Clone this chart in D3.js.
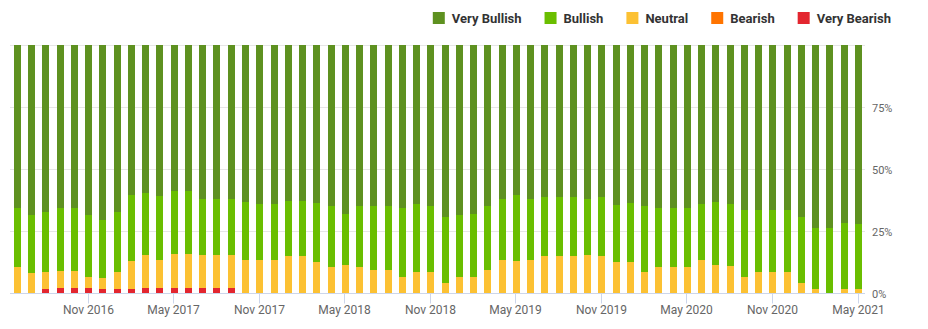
<!DOCTYPE html>
<html><head><meta charset="utf-8">
<script src="https://cdn.jsdelivr.net/npm/d3@7"></script>
<style>body{margin:0;background:#fff}svg{display:block}</style>
</head><body>
<svg id="chart" width="928" height="329"></svg>
<script>
const months = [
  "Jun 2016","Jul 2016","Aug 2016","Sep 2016","Oct 2016","Nov 2016","Dec 2016",
  "Jan 2017","Feb 2017","Mar 2017","Apr 2017","May 2017","Jun 2017","Jul 2017","Aug 2017","Sep 2017","Oct 2017","Nov 2017","Dec 2017",
  "Jan 2018","Feb 2018","Mar 2018","Apr 2018","May 2018","Jun 2018","Jul 2018","Aug 2018","Sep 2018","Oct 2018","Nov 2018","Dec 2018",
  "Jan 2019","Feb 2019","Mar 2019","Apr 2019","May 2019","Jun 2019","Jul 2019","Aug 2019","Sep 2019","Oct 2019","Nov 2019","Dec 2019",
  "Jan 2020","Feb 2020","Mar 2020","Apr 2020","May 2020","Jun 2020","Jul 2020","Aug 2020","Sep 2020","Oct 2020","Nov 2020","Dec 2020",
  "Jan 2021","Feb 2021","Mar 2021","Apr 2021","May 2021"
];
const veryBearish = [
  0, 0, 1.7, 2.2, 2.2, 2.2, 1.7, 1.7, 1.7, 2.2,
  2.2, 2.2, 2.2, 2.2, 2.2, 2.2, 0, 0, 0, 0,
  0, 0, 0, 0, 0, 0, 0, 0, 0, 0,
  0, 0, 0, 0, 0, 0, 0, 0, 0, 0,
  0, 0, 0, 0, 0, 0, 0, 0, 0, 0,
  0, 0, 0, 0, 0, 0, 0, 0, 0, 0
];
const bearish = [
  0, 0, 0, 0, 0, 0, 0, 0, 0, 0,
  0, 0, 0, 0, 0, 0, 0, 0, 0, 0,
  0, 0, 0, 0, 0, 0, 0, 0, 0, 0,
  0, 0, 0, 0, 0, 0, 0, 0, 0, 0,
  0, 0, 0, 0, 0, 0, 0, 0, 0, 0,
  0, 0, 0, 0, 0, 0, 0, 0, 0, 0
];
const neutral = [
  10.6, 8.2, 6.9, 6.8, 6.8, 4.4, 4.5, 6.9, 11.3, 13.3,
  11.2, 13.7, 13.7, 13.3, 13.3, 13.3, 13.4, 13.4, 13.4, 15.1,
  15.1, 12.6, 10.6, 11.4, 10.6, 9.4, 9.4, 6.6, 8.6, 8.6,
  4.2, 6.6, 6.6, 9.4, 13.4, 13.0, 13.4, 15.1, 15.1, 15.1,
  15.5, 15.1, 12.6, 12.6, 8.6, 10.6, 10.6, 10.6, 13.4, 11.4,
  11.0, 6.6, 8.6, 8.6, 8.6, 4.2, 1.7, 0, 1.7, 1.7
];
const bullish = [
  23.8, 23.4, 24.2, 25.4, 25.4, 25.0, 23.4, 24.2, 26.7, 25.0,
  25.8, 25.4, 25.4, 22.5, 22.5, 22.5, 23.4, 22.6, 22.6, 22.1,
  22.1, 23.8, 24.6, 20.6, 24.6, 25.8, 25.8, 27.8, 27.4, 26.6,
  26.6, 25.0, 25.4, 25.8, 24.6, 26.7, 24.6, 23.7, 23.7, 23.7,
  22.5, 23.7, 23.0, 23.8, 26.6, 23.8, 23.8, 23.8, 22.6, 25.4,
  25.0, 27.0, 25.0, 25.0, 25.0, 26.6, 24.6, 26.3, 26.7, 26.3
];
const veryBullish = [
  65.6, 68.4, 67.2, 65.6, 65.6, 68.4, 70.4, 67.2, 60.3, 59.5,
  60.8, 58.7, 58.7, 62.0, 62.0, 62.0, 63.2, 64.0, 64.0, 62.8,
  62.8, 63.6, 64.8, 68.0, 64.8, 64.8, 64.8, 65.6, 64.0, 64.8,
  69.2, 68.4, 68.0, 64.8, 62.0, 60.3, 62.0, 61.2, 61.2, 61.2,
  62.0, 61.2, 64.4, 63.6, 64.8, 65.6, 65.6, 65.6, 64.0, 63.2,
  64.0, 66.4, 66.4, 66.4, 66.4, 69.2, 73.7, 73.7, 71.6, 72.0
];
const xTickLabels = ["Nov 2016","May 2017","Nov 2017","May 2018","Nov 2018","May 2019","Nov 2019","May 2020","Nov 2020","May 2021"];
const yTickValues = [0, 0.25, 0.5, 0.75];
const gridValues = [0.25, 0.5, 0.75, 1];
const stackKeys = ["Very Bearish","Bearish","Neutral","Bullish","Very Bullish"];
const legendKeys = ["Very Bullish","Bullish","Neutral","Bearish","Very Bearish"];
const colors = {
  "Very Bullish": "#5e9120",
  "Bullish": "#6abe00",
  "Neutral": "#fcc133",
  "Bearish": "#ff7400",
  "Very Bearish": "#e3262f"
};

const seriesArrays = {
  "Very Bearish": veryBearish, "Bearish": bearish, "Neutral": neutral,
  "Bullish": bullish, "Very Bullish": veryBullish
};
const rows = months.map((m, i) => {
  const r = {month: m};
  stackKeys.forEach(k => r[k] = seriesArrays[k][i]);
  return r;
});

const svg = d3.select("#chart");
const plotLeft = 10, plotRight = 865, plotTop = 45, plotBottom = 293;

const x = d3.scaleBand().domain(months).range([plotLeft + 0.5, plotRight + 0.5])
  .paddingInner(0.5).paddingOuter(0.24);
const y = d3.scaleLinear().domain([0, 1]).range([plotBottom, plotTop]);

// gridlines
svg.append("g").selectAll("line").data(gridValues).join("line")
  .attr("x1", plotLeft).attr("x2", plotRight)
  .attr("y1", d => Math.round(y(d)) + 0.5).attr("y2", d => Math.round(y(d)) + 0.5)
  .attr("stroke", "#e6e6e6").attr("stroke-width", 1);

// bars
const stacked = d3.stack().keys(stackKeys).offset(d3.stackOffsetExpand)(rows);
const bw = Math.round(x.bandwidth());
svg.append("g").selectAll("g").data(stacked).join("g")
  .attr("fill", s => colors[s.key])
  .selectAll("rect").data(s => s.filter(d => d[1] - d[0] > 0)).join("rect")
  .attr("x", d => Math.round(x(d.data.month)))
  .attr("width", bw)
  .attr("y", d => Math.round(y(d[1])))
  .attr("height", d => Math.round(y(d[0])) - Math.round(y(d[1])));

// x axis
const xAxis = svg.append("g").attr("transform", `translate(0,${plotBottom + 0.5})`)
  .call(d3.axisBottom(x).tickValues(xTickLabels).tickSize(10).tickSizeOuter(0).tickPadding(2));
xAxis.select(".domain").attr("stroke", "#ccd6eb").attr("d", `M${plotLeft},0H${plotRight}`);
xAxis.selectAll(".tick line").attr("stroke", "#ccd6eb")
  .attr("transform", function(){ return null; });
xAxis.selectAll(".tick").attr("transform", d => `translate(${Math.round(x(d) + x.bandwidth() / 2) - 0.5},0)`);
xAxis.selectAll(".tick text").attr("fill", "#666666")
  .style("font-family", "Roboto, 'Open Sans', sans-serif").style("font-size", "12px");

// y axis labels (right)
const yAxis = svg.append("g").attr("transform", `translate(${plotRight},0)`)
  .call(d3.axisRight(y).tickValues(yTickValues).tickFormat(d3.format(".0%")).tickSize(0).tickPadding(7));
yAxis.select(".domain").remove();
yAxis.selectAll(".tick text").attr("fill", "#666666").attr("dy", "0.42em")
  .style("font-family", "Roboto, 'Open Sans', sans-serif").style("font-size", "11px");

// legend (right-aligned)
const legend = svg.append("g");
const items = legend.selectAll("g").data(legendKeys).join("g");
items.append("rect").attr("width", 12).attr("height", 12).attr("y", 12)
  .attr("fill", d => colors[d]);
items.append("text").text(d => d).attr("x", 19).attr("y", 23)
  .attr("fill", "#333333")
  .style("font-family", "Roboto, sans-serif").style("font-size", "13px").style("font-weight", "bold");
const widths = [];
items.each(function(){ widths.push(19 + d3.select(this).select("text").node().getComputedTextLength()); });
const gap = 23;
const total = d3.sum(widths) + gap * (widths.length - 1);
let cx = 891 - total;
items.attr("transform", (d, i) => { const t = `translate(${cx},0)`; cx += widths[i] + gap; return t; });
</script>
</body></html>
